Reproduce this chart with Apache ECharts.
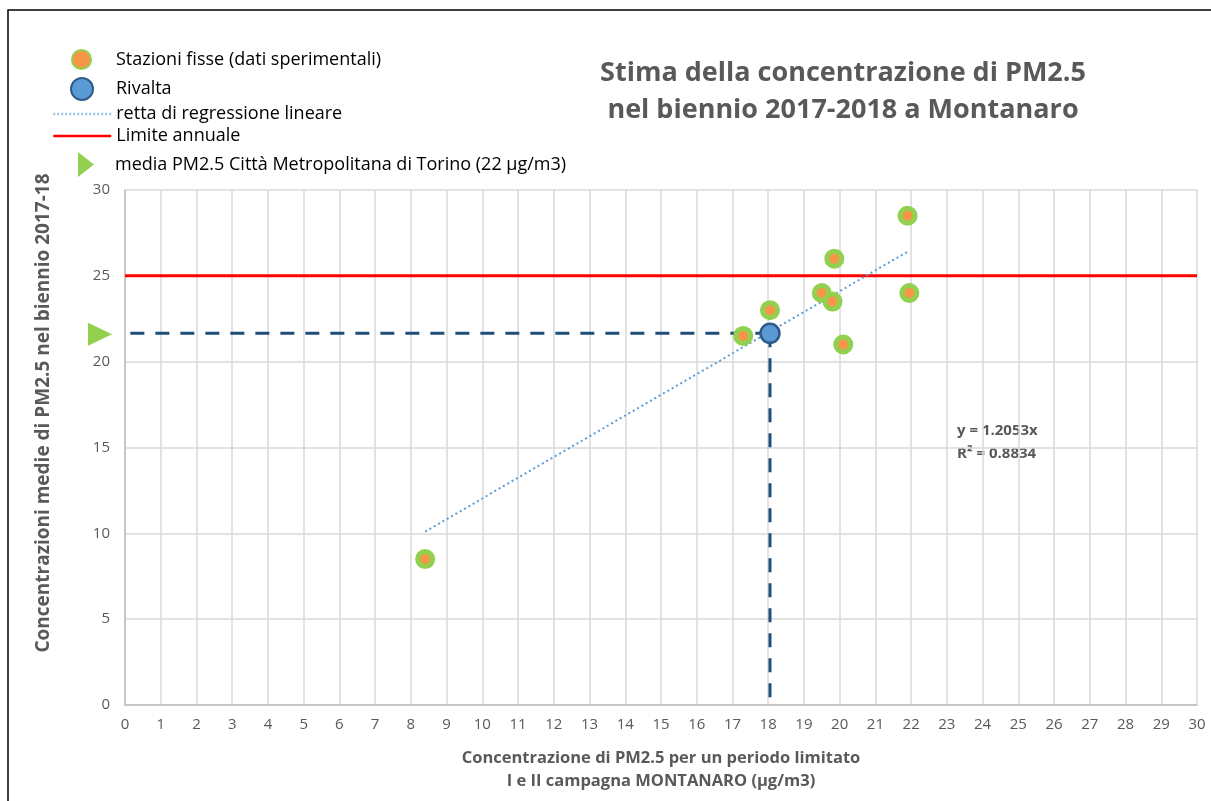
<!DOCTYPE html>
<html>
<head>
<meta charset="utf-8">
<script src="https://cdn.jsdelivr.net/npm/echarts@6/dist/echarts.min.js"></script>
<style>
html,body{margin:0;padding:0;background:#fff;}
#c1{width:1211px;height:801px;}
</style>
</head>
<body>
<div id="c1"></div>
<script>
var chart = echarts.init(document.getElementById('c1'));

// stazioni fisse: campagna (x) vs media biennio (y)
var stazioniX = [8.4, 17.3, 18.05, 19.5, 19.8, 19.85, 20.1, 21.9, 21.95];
var stazioniY = [8.5, 21.5, 23.0, 24.0, 23.5, 26.0, 21.0, 28.5, 24.0];
var rivalta = [18.05, 21.65];
var retta = [[8.4, 10.1], [21.9, 26.4]];
var limiteAnnuale = 25;
var mediaTorino = [-0.7, 21.6];
var xTicks = [0, 30, 1];
var yTicks = [0, 30, 5];

var grigio = '#595959';
var font = '"Open Sans", "Liberation Sans", sans-serif';
var triangolo = 'path://M0,0L24,11.5L0,23Z';

var stazioniData = stazioniX.map(function (x, i) { return [x, stazioniY[i]]; });

function voce(nome, left, top, w, h, padSx, extra) {
   var l = {
      data: [nome], left: left, top: top, padding: 0,
      itemWidth: w, itemHeight: h,
      textStyle: {fontSize: 18, color: '#000', fontFamily: font, lineHeight: 20, padding: [0, 0, 0, padSx]}
   };
   return Object.assign(l, extra || {});
}

var option = {
   backgroundColor: '#fff',
   animation: false,
   title: {
      text: 'Stima della concentrazione di PM2.5\nnel biennio 2017-2018 a Montanaro',
      left: 838,
      top: 50,
      textAlign: 'center',
      textStyle: {
         color: grigio,
         fontFamily: font,
         fontSize: 27,
         fontWeight: 'bold',
         lineHeight: 37
      }
   },
   //legenda: un componente per voce
   legend: [
      voce('Stazioni fisse (dati sperimentali)', 71, 49, 19, 19, 20),
      voce('Rivalta', 70, 77, 22, 22, 18),
      voce('retta di regressione lineare', 52, 104, 58, 14, 0,
         {itemStyle: {color: 'transparent', borderWidth: 0}, lineStyle: {color: '#9dc3e6', width: 2.5, type: [2, 2]}}),
      voce('Limite annuale', 52, 126, 58, 14, 0,
         {itemStyle: {color: 'transparent', borderWidth: 0}, lineStyle: {width: 2.5}}),
      voce('media PM2.5 Città Metropolitana di Torino (22 µg/m3)', 78, 152, 16, 25, 16,
         {icon: 'path://M0,0L16,12.5L0,25Z'})
   ],
   grid: {
      left: 125,
      right: 14,
      top: 190,
      bottom: 96,
      containLabel: false
   },
   xAxis: {
      type: 'value',
      min: xTicks[0],
      max: xTicks[1],
      interval: xTicks[2],
      name: 'Concentrazione di PM2.5 per un periodo limitato\nI e II campagna MONTANARO (µg/m3)',
      nameLocation: 'middle',
      nameGap: 42,
      nameTextStyle: {color: grigio, fontFamily: font, fontSize: 16.5, fontWeight: 'bold', lineHeight: 23},
      axisLine: {lineStyle: {color: '#bfbfbf', width: 1.5}},
      axisTick: {show: false},
      axisLabel: {color: grigio, fontFamily: font, fontSize: 15, margin: 12},
      splitLine: {show: true, lineStyle: {color: '#d9d9d9', width: 1.5}}
   },
   yAxis: {
      type: 'value',
      min: yTicks[0],
      max: yTicks[1],
      interval: yTicks[2],
      axisLine: {show: true, lineStyle: {color: '#bfbfbf', width: 1.5}},
      axisTick: {show: false},
      axisLabel: {color: grigio, fontFamily: font, fontSize: 15, margin: 15},
      splitLine: {show: true, lineStyle: {color: '#d9d9d9', width: 1.5}}
   },
   graphic: [
      {type: 'rect', silent: true, shape: {x: 8, y: 10, width: 1300, height: 900},
         style: {fill: 'none', stroke: '#000', lineWidth: 1.5}},
      {type: 'text', x: 44, y: 413, rotation: Math.PI / 2, silent: true,
         style: {text: 'Concentrazioni medie di PM2.5 nel biennio 2017-18', fill: grigio,
            font: 'bold 19px ' + font, align: 'center', verticalAlign: 'middle'}},
      {type: 'text', left: 957, top: 419, silent: true,
         style: {text: 'y = 1.2053x\nR² = 0.8834', fill: grigio, font: 'bold 15px ' + font, lineHeight: 23}}
   ],
   series: [
      {
         name: 'Limite annuale',
         type: 'line',
         symbol: 'none',
         data: [[xTicks[0], limiteAnnuale], [xTicks[1], limiteAnnuale]],
         lineStyle: {color: '#ff0000', width: 3},
         itemStyle: {color: '#ff0000'},
         z: 2
      },
      {
         name: 'retta di regressione lineare',
         type: 'line',
         symbol: 'none',
         data: retta,
         lineStyle: {color: '#5b9bd5', width: 2, type: [2, 3]},
         itemStyle: {color: '#5b9bd5'},
         z: 3
      },
      {
         name: 'tratteggio orizzontale',
         type: 'line',
         symbol: 'none',
         data: [[xTicks[0] + 0.15, rivalta[1]], rivalta],
         lineStyle: {color: '#1f4e79', width: 3, type: [14, 11]},
         z: 3
      },
      {
         name: 'tratteggio verticale',
         type: 'line',
         symbol: 'none',
         data: [rivalta, [rivalta[0], yTicks[0]]],
         lineStyle: {color: '#1f4e79', width: 3, type: [14, 11]},
         z: 3
      },
      {
         name: 'Stazioni fisse (dati sperimentali)',
         type: 'scatter',
         symbol: 'circle',
         symbolSize: 15,
         data: stazioniData,
         itemStyle: {color: '#f79646', borderColor: '#92d050', borderWidth: 5, opacity: 1},
         z: 4
      },
      {
         name: 'Rivalta',
         type: 'scatter',
         symbol: 'circle',
         symbolSize: 19,
         data: [rivalta],
         itemStyle: {color: '#5b9bd5', borderColor: '#2e5c8a', borderWidth: 2.5, opacity: 1},
         z: 5
      },
      {
         name: 'media PM2.5 Città Metropolitana di Torino (22 µg/m3)',
         type: 'scatter',
         symbol: triangolo,
         symbolSize: [24, 23],
         clip: false,
         data: [mediaTorino],
         itemStyle: {color: '#92d050', opacity: 1},
         z: 5
      }
   ]
};
chart.setOption(option);
</script>
</body>
</html>
